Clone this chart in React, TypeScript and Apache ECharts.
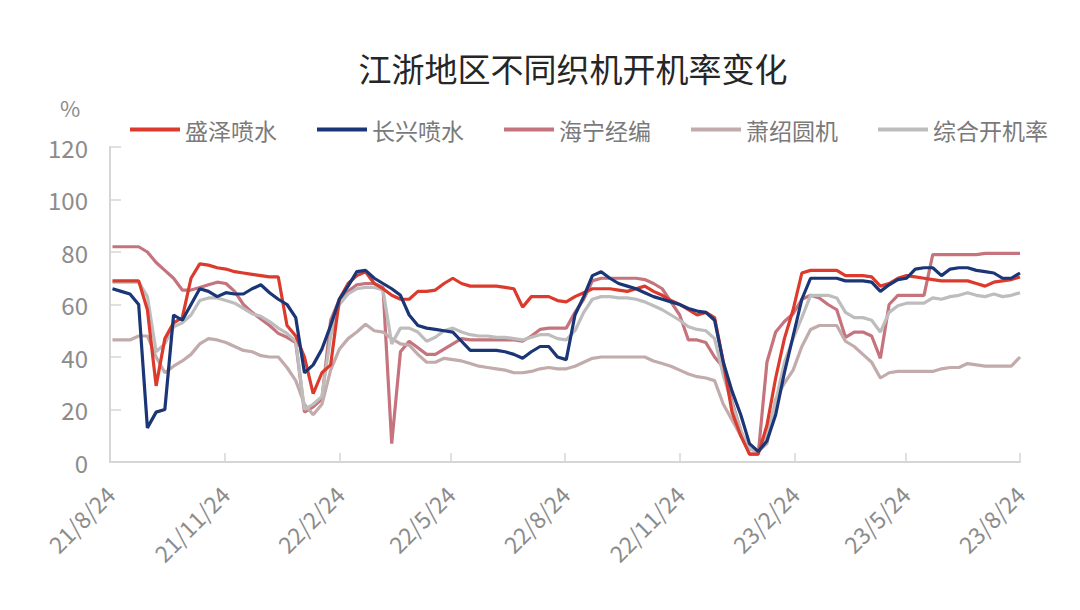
import React, { useEffect, useRef } from "react";
import * as echarts from "echarts";

const TITLE = "江浙地区不同织机开机率变化";
const SERIES_NAMES = ["盛泽喷水", "长兴喷水", "海宁经编", "萧绍圆机", "综合开机率"];
const COLORS = ["#dc3a2c", "#1a3676", "#c5747d", "#c2abab", "#bdbdbd"];
const TICK_DATES = [
  "2021-08-24", "2021-11-24", "2022-02-24", "2022-05-24", "2022-08-24",
  "2022-11-24", "2023-02-24", "2023-05-24", "2023-08-24",
];
const LAST_DATE = "2023-08-24";

const shengze = [
  69, 69, 69, 69, 58, 29, 47, 53, 55, 70, 75.5, 75, 74, 73.5, 72.5, 72, 71.5, 71, 70.5, 70.5,
  52, 48, 40, 26, 34, 37, 62, 68, 71, 72.5, 68, 66, 63.5, 62, 62, 65, 65, 65.5, 68, 70,
  68, 67, 67, 67, 67, 66.5, 66, 59, 63, 63, 63, 61.5, 61, 63, 64.5, 66, 66, 66, 65.5, 65,
  66, 67, 65, 63.5, 61.5, 60, 58, 56, 57, 55, 38, 19, 10, 3, 3, 14, 32, 47, 58, 72,
  73, 73, 73, 73, 71, 71, 71, 70.5, 67, 68, 70, 71, 70.5, 70, 69.5, 69, 69, 69, 69, 68,
  67, 68.5, 69, 69.5, 70.5,
];
const changxing = [
  66, 65, 64, 60, 13, 19, 20, 56, 54, 60, 66, 65, 63, 64.5, 64, 64, 66, 67.5, 64.5, 62,
  60, 55, 34, 37, 43, 52, 62, 67, 72.5, 73, 70, 68, 66, 63.5, 56, 52, 51, 50.5, 50, 49.5,
  46, 42.5, 42.5, 42.5, 42.5, 42, 41, 39.5, 42, 44, 44, 40, 39, 56, 63, 71, 72.5, 70, 68, 67,
  66, 64.5, 63, 62, 61, 60, 58.5, 57.5, 57, 54, 38, 27, 18, 7, 4, 8, 18, 34, 48, 62,
  70, 70, 70, 70, 69, 69, 69, 68.5, 65, 67.5, 69.5, 70, 73.5, 74, 74, 71, 73.5, 74, 74, 73,
  72.5, 72, 70, 70, 72,
];
const haining = [
  82, 82, 82, 82, 80, 76, 73, 70, 65.5, 65.5, 66.5, 67.5, 68.5, 68, 65, 60, 57, 54.5, 52, 49,
  47.5, 45.5, 19, 21, 24, 54, 62, 65, 67.5, 68, 68, 66.5, 7, 42, 46, 43.5, 41, 41, 43, 45,
  47, 46.5, 46.5, 46.5, 46.5, 46.5, 46.5, 46, 48, 50.5, 51, 51, 51, 57, 62, 69, 70, 70, 70, 70,
  70, 69.5, 68, 66, 61, 56, 46.5, 46.5, 45.5, 40, 36, 23, 12, 3, 3, 38, 49.5, 53.5, 56.5, 62,
  63.5, 62.5, 60, 58, 47.5, 49.5, 49.5, 48, 39.5, 60, 63.5, 63.5, 63.5, 63.5, 79, 79, 79, 79, 79, 79,
  79.5, 79.5, 79.5, 79.5, 79.5,
];
const xiaoshao = [
  46.5, 46.5, 46.5, 48, 48, 40, 34, 36.5, 38.5, 41, 45, 47, 46.5, 45.5, 44, 42.5, 42, 40.5, 40, 40,
  36, 31, 22, 18, 22, 35, 43, 47, 49.5, 52.5, 50, 49.5, 47, 45, 44.5, 41, 38, 38, 39.5, 39,
  38.5, 37.5, 36.5, 36, 35.5, 35, 34, 34, 34.5, 35.5, 36, 35.5, 35.5, 36.5, 38, 39.5, 40, 40, 40, 40,
  40, 40, 38.5, 37.5, 36.5, 35, 33.5, 32.5, 32, 31, 22, 16, 10, 5, 4, 7, 24, 30, 35, 44,
  50.5, 52, 52, 52, 46, 44, 41, 38, 32, 34, 34.5, 34.5, 34.5, 34.5, 34.5, 35.5, 36, 36, 37.5, 37,
  36.5, 36.5, 36.5, 36.5, 40,
];
const zonghe = [
  68.5, 68.5, 68.5, 68.5, 63, 42, 45, 51.5, 53, 56, 61.5, 62.5, 62.5, 61.5, 60.5, 58.5, 56.5, 55.5, 53.5, 51,
  49, 46, 20, 22, 25, 48, 60, 64, 66, 66.5, 66.5, 65.5, 45, 51, 51, 49.5, 46, 47.5, 50, 51,
  49.5, 48.5, 48, 48, 47.5, 47.5, 47, 46.5, 47.5, 48.5, 48.5, 47, 46.5, 50, 57, 62, 63, 63, 62.5, 62.5,
  62, 61, 59.5, 58, 56, 54, 51.5, 50.5, 50, 47, 33, 22, 12, 5, 4, 10, 23, 38, 47, 55,
  63.5, 63.5, 63.5, 62.5, 57, 55, 55, 54, 49.5, 57, 59.5, 60.5, 60.5, 60.5, 62.5, 62, 63, 63.5, 64.5, 63.5,
  63, 64, 63, 63.5, 64.5,
];

const VALUES = [shengze, changxing, haining, xiaoshao, zonghe];

const DAY = 24 * 3600 * 1000;
function toTime(s: string): number {
  const [y, m, d] = s.split("-").map(Number);
  return Date.UTC(y, m - 1, d);
}
const ORIGIN = toTime(TICK_DATES[0]);
// day number of a date, counted from the first tick date
const dayOf = (s: string) => Math.round((toTime(s) - ORIGIN) / DAY);

// weekly observations, the last one on LAST_DATE (x in days since ORIGIN)
function weeklyDays(n: number): number[] {
  const end = dayOf(LAST_DATE);
  const out: number[] = [];
  for (let i = 0; i < n; i++) out.push(end - (n - 1 - i) * 7);
  return out;
}

export default function App() {
  const ref = useRef<HTMLDivElement>(null);
  useEffect(() => {
    if (!ref.current) return;
    const chart = echarts.init(ref.current, null, { renderer: "svg" });
    const days = weeklyDays(shengze.length);
    const tickDays = TICK_DATES.map(dayOf);
    const axisGray = "#d6d6d6";
    const textGray = "#8c8c8c";
    const font = "'Noto Sans CJK SC', 'Noto Sans', sans-serif";
    chart.setOption({
      animation: false,
      backgroundColor: "#ffffff",
      title: {
        text: TITLE,
        left: 568,
        top: 46,
        textAlign: "center",
        textStyle: { fontSize: 33, fontWeight: "normal", color: "#262626", fontFamily: font },
      },
      legend: {
        left: 125,
        top: 113,
        itemWidth: 50,
        itemHeight: 4,
        itemGap: 40,
        icon: "rect",
        data: SERIES_NAMES,
        textStyle: { fontSize: 23, color: "#7a7a7a", fontFamily: font },
      },
      graphic: [
        {
          type: "text",
          left: 60,
          top: 96,
          style: { text: "%", fontSize: 22, fill: textGray, fontFamily: font },
        },
      ],
      grid: { left: 110, right: 60, top: 147, bottom: 148, containLabel: false },
      xAxis: {
        type: "value",
        min: tickDays[0],
        max: tickDays[tickDays.length - 1],
        axisLine: { show: true, onZero: false, lineStyle: { color: axisGray, width: 2 } },
        axisTick: {
          show: true,
          inside: true,
          length: 9,
          customValues: tickDays,
          lineStyle: { color: axisGray, width: 1.5 },
        },
        axisLabel: {
          customValues: tickDays,
          rotate: 45,
          margin: 28,
          fontSize: 23,
          color: textGray,
          fontFamily: font,
          formatter: (v: number) => {
            const d = new Date(ORIGIN + v * DAY);
            return `${String(d.getUTCFullYear()).slice(2)}/${d.getUTCMonth() + 1}/${d.getUTCDate()}`;
          },
        },
        splitLine: { show: false },
      },
      yAxis: {
        type: "value",
        min: 0,
        max: 120,
        interval: 20,
        axisLine: { show: true, lineStyle: { color: axisGray, width: 2 } },
        axisTick: { show: true, inside: true, length: 11, lineStyle: { color: axisGray, width: 1.5 } },
        axisLabel: { margin: 22, fontSize: 24, color: textGray, fontFamily: font },
        splitLine: { show: false },
      },
      series: SERIES_NAMES.map((name, k) => ({
        name,
        type: "line",
        symbol: "none",
        showSymbol: false,
        z: k < 2 ? 4 : 3,
        lineStyle: { width: 3.2, color: COLORS[k] },
        itemStyle: { color: COLORS[k] },
        data: VALUES[k].map((v, i) => [days[i], v]),
      })),
    });
    return () => chart.dispose();
  }, []);
  return (
    <div
      ref={ref}
      style={{ position: "fixed", left: 0, top: 0, width: 1080, height: 610, background: "#fff" }}
    />
  );
}
